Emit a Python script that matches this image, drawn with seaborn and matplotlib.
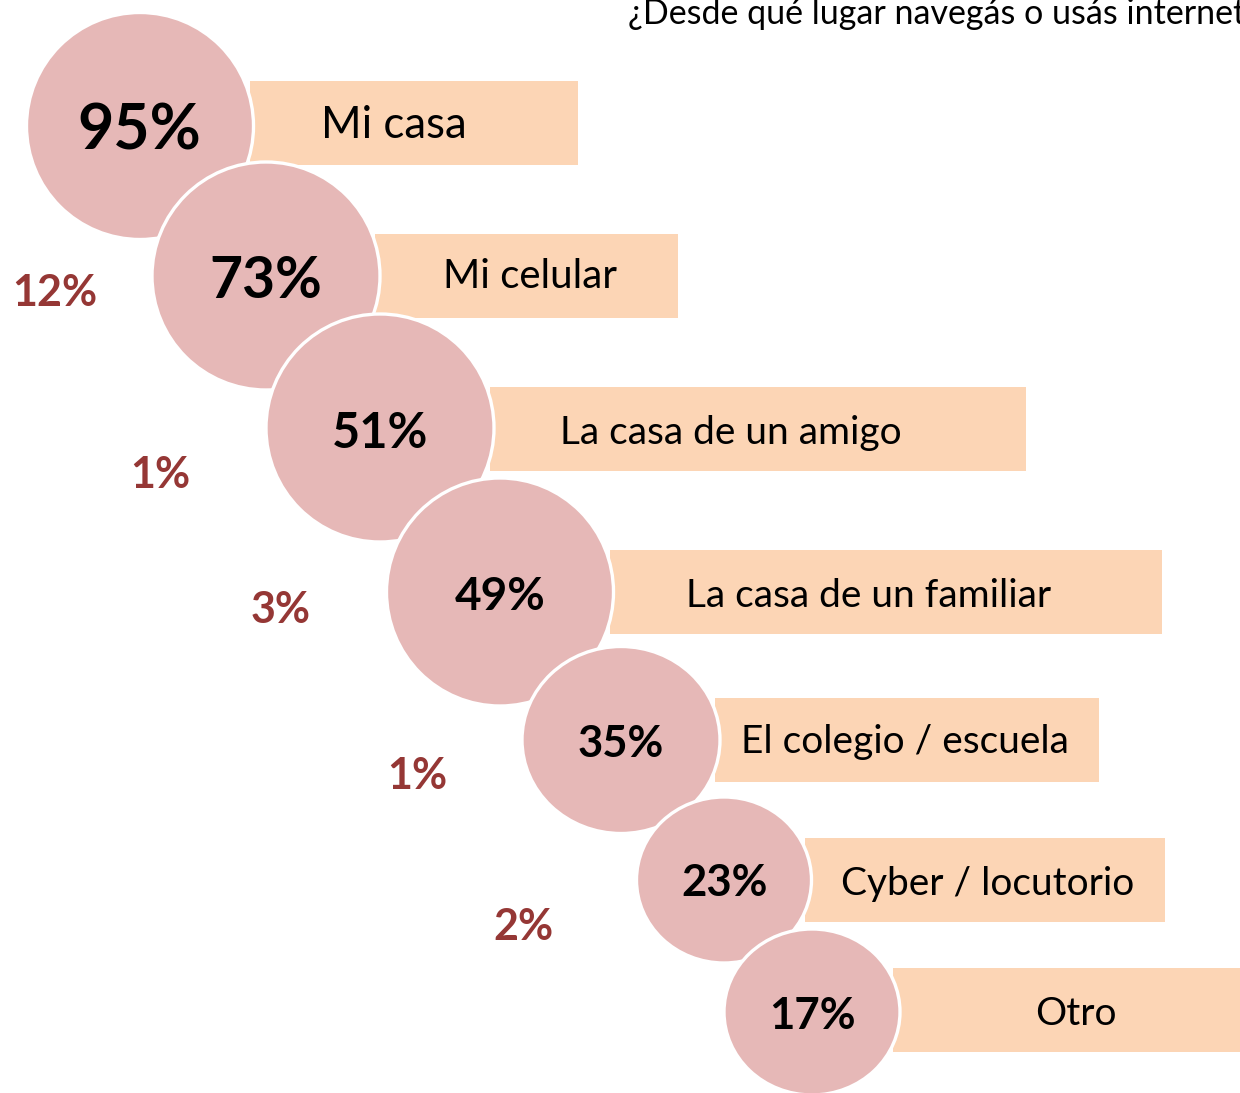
import matplotlib
matplotlib.use("Agg")
import matplotlib.pyplot as plt
from matplotlib.patches import Ellipse, Rectangle
import seaborn as sns

# ---------------- data ----------------
title = "¿Desde qué lugar navegás o usás internet?"
categories = ["Mi casa", "Mi celular", "La casa de un amigo", "La casa de un familiar",
              "El colegio / escuela", "Cyber / locutorio", "Otro"]
values = [95, 73, 51, 49, 35, 23, 17]
side_values = [12, 1, 3, 1, 2]

# ---------------- layout (pixels in a 1240x1093 canvas) ----------------
circle_cx = [140, 266, 380, 500, 621, 724, 812]
circle_cy = [126, 276, 428, 592, 740, 880, 1012]
circle_w = [227, 228, 228, 227, 198, 175, 176]
circle_h = [227, 228, 228, 228, 187, 166, 166]
rect_x0 = [250, 375, 490, 610, 715, 805, 893]
rect_x1 = [578, 678, 1026, 1162, 1099, 1165, 1240]
rect_y0 = [81, 234, 387, 550, 698, 838, 968]
rect_h = 84
pct_x = [139, 266, 380, 500, 621, 725, 812]
pct_base = [150, 298, 448, 610, 757, 896, 1029]
pct_size = [45, 41, 35, 33, 31.5, 31.5, 31.5]
lab_x = [394, 530, 731, 869, 905, 988, 1076]
lab_base = [138, 288, 444, 607, 753, 895, 1025]
lab_size = [31.5, 29, 28, 28, 28, 28, 28]
side_x = [55, 160, 281, 417, 523]
side_base = [306, 488, 623, 789, 940]

CIRCLE = "#E6B8B7"
BAR = "#FCD5B5"
RED = "#953735"

sns.set_theme(style="white")
plt.rcParams["font.family"] = ["Lato", "DejaVu Sans"]

fig = plt.figure(figsize=(12.4, 10.93), dpi=100)
ax = fig.add_axes([0, 0, 1, 1])
ax.set_xlim(0, 1240)
ax.set_ylim(1093, 0)
ax.axis("off")

for i, (cat, v) in enumerate(zip(categories, values)):
    ax.add_patch(Rectangle((rect_x0[i], rect_y0[i]), rect_x1[i] - rect_x0[i], rect_h,
                           facecolor=BAR, edgecolor="none", zorder=2 * i + 1))
    ax.add_patch(Ellipse((circle_cx[i], circle_cy[i]), circle_w[i], circle_h[i],
                         facecolor=CIRCLE, edgecolor="white", linewidth=2.4,
                         zorder=2 * i + 2))
    ax.text(pct_x[i], pct_base[i], f"{v}%", ha="center", va="baseline",
            fontsize=pct_size[i], fontweight="bold", color="black", zorder=50)
    ax.text(lab_x[i], lab_base[i], cat, ha="center", va="baseline",
            fontsize=lab_size[i], color="black", zorder=50)

for x, b, v in zip(side_x, side_base, side_values):
    ax.text(x, b, f"{v}%", ha="center", va="baseline", fontsize=31,
            fontweight="bold", color=RED, zorder=50)

ax.text(628, 24, title, ha="left", va="baseline", fontsize=24.5, color="black",
        zorder=50)

fig.savefig("out.png", dpi=100, facecolor="white")
